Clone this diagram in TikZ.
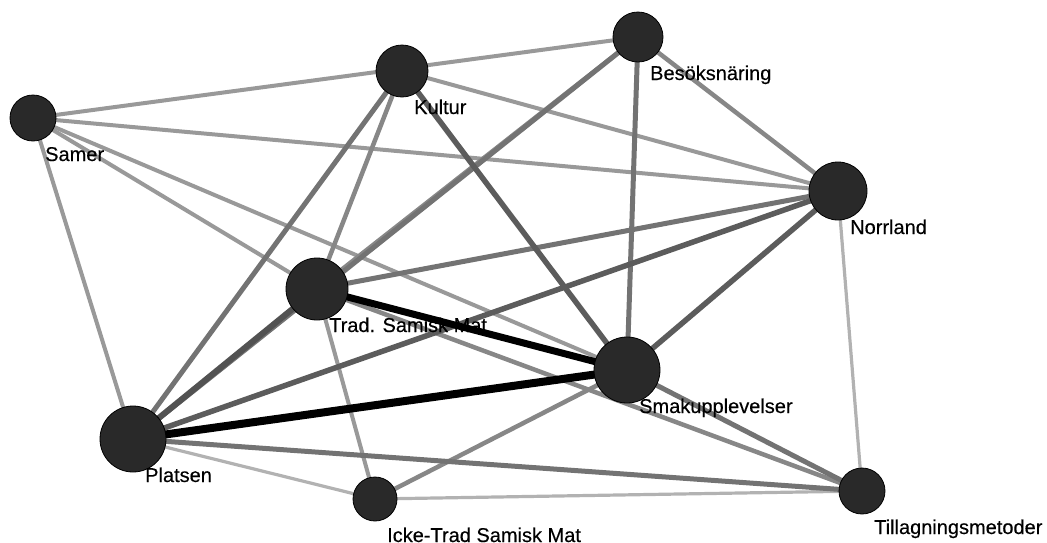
\documentclass[tikz,border=0pt]{standalone}
\usepackage{fontspec}
\setmainfont{Liberation Sans}[FakeBold=0.35]
\usetikzlibrary{positioning}
\pgfdeclarelayer{background}
\pgfsetlayers{background,main}

\tikzset{
  term/.style={circle, fill=black!84, draw=black, line width=0.8pt, inner sep=0pt},
  tag/.style={anchor=base west, inner sep=0pt, font=\fontsize{20}{24}\selectfont},
  faint/.style={line width=3.2pt, draw=black!30},
  light/.style={line width=4pt, draw=black!40},
  mid/.style={line width=4.5pt, draw=black!47},
  dark/.style={line width=5pt, draw=black!55},
  darker/.style={line width=5.5pt, draw=black!64},
  heavy/.style={line width=7pt, draw=black},
}

\begin{document}
\begin{tikzpicture}[x=1pt, y=-1pt]
  \useasboundingbox (0,0) rectangle (1047,542);

  % concepts
  \node[term, minimum size=46pt] (samer)    at (33,118)  {};
  \node[term, minimum size=52pt] (kultur)   at (402,71)  {};
  \node[term, minimum size=50pt] (besok)    at (638,37)  {};
  \node[term, minimum size=58pt] (norrland) at (838,191) {};
  \node[term, minimum size=62pt] (trad)     at (317,289) {};
  \node[term, minimum size=66pt] (smak)     at (627,370) {};
  \node[term, minimum size=66pt] (platsen)  at (133,439) {};
  \node[term, minimum size=44pt] (icke)     at (375,499) {};
  \node[term, minimum size=46pt] (till)     at (862,491) {};

  % labels
  \foreach \n/\t in {samer/Samer, kultur/Kultur, besok/Besöksnäring,
      norrland/Norrland, trad/Trad. Samisk Mat, smak/Smakupplevelser,
      platsen/Platsen, icke/Icke-Trad Samisk Mat, till/Tillagningsmetoder}
    \node[tag, xshift=12pt, yshift=-43pt] (\n-tag) at (\n.center) {\t};

  % links
  \begin{pgfonlayer}{background}
    \foreach \a/\b in {norrland/till, icke/till, platsen/icke}
      \draw[faint] (\a.center) -- (\b.center);
    \foreach \a/\b in {samer/besok, samer/norrland, samer/smak, samer/trad,
        samer/platsen, kultur/norrland, trad/icke}
      \draw[light] (\a.center) -- (\b.center);
    \foreach \a/\b in {kultur/trad, besok/trad, besok/norrland, trad/till, smak/icke}
      \draw[mid] (\a.center) -- (\b.center);
    \foreach \a/\b in {kultur/platsen, besok/platsen, besok/smak, norrland/trad,
        smak/till, platsen/till}
      \draw[dark] (\a.center) -- (\b.center);
    \foreach \a/\b in {kultur/smak, norrland/platsen, norrland/smak}
      \draw[darker] (\a.center) -- (\b.center);
    \draw[darker, line width=6pt, draw=black!68] (trad.center) -- (platsen.center);
    \draw[heavy] (trad.center) -- (smak.center);
    \draw[heavy, line width=8pt] (smak.center) -- (platsen.center);
  \end{pgfonlayer}
\end{tikzpicture}
\end{document}
